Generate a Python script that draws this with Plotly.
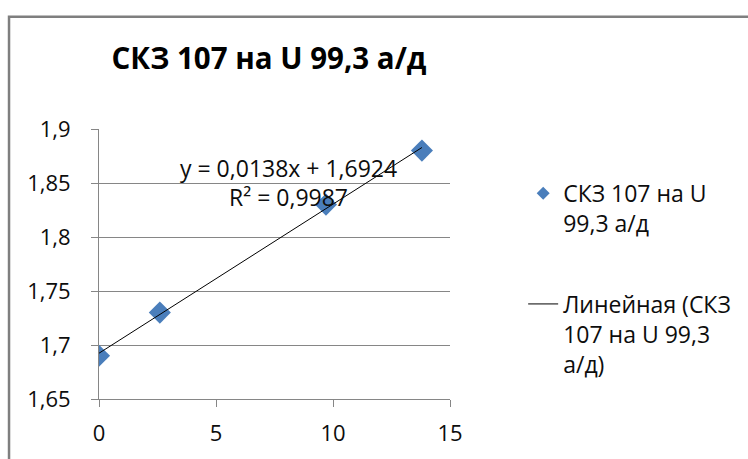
import plotly.graph_objects as go

# Measured series: СКЗ 107 at U 99.3 а/д
x_vals = [0.0, 2.6, 9.7, 13.8]
y_vals = [1.69, 1.73, 1.83, 1.88]

# Linear trend (as printed in the equation label)
slope = 0.0138
intercept = 1.6924
r_squared = 0.9987

series_name = "СКЗ 107 на U<br>99,3 а/д"
trend_name = "Линейная (СКЗ<br>107 на U 99,3<br>а/д)"
title_text = "СКЗ 107 на U 99,3 а/д"

x_ticks = [0, 5, 10, 15]
x_tick_labels = ["0", "5", "10", "15"]
y_ticks = [1.65, 1.7, 1.75, 1.8, 1.85, 1.9]
y_tick_labels = ["1,65", "1,7", "1,75", "1,8", "1,85", "1,9"]

BLUE = "#4A7EBB"
GRID = "#868686"
TEXT = "#0d0d0d"
FONT = "Open Sans, Noto Sans, sans-serif"


def fmt(v, nd):
    return f"{v:.{nd}f}".replace(".", ",")


trend_x = [min(x_vals), max(x_vals)]
trend_y = [slope * v + intercept for v in trend_x]

fig = go.Figure()

# legend swatch for the measured series (smaller than the plotted markers)
fig.add_trace(go.Scatter(
    x=[None], y=[None], mode="markers", name=series_name,
    legendgroup="data",
    marker=dict(symbol="diamond", size=10, color=BLUE),
    showlegend=True, hoverinfo="skip",
))

fig.add_trace(go.Scatter(
    x=x_vals, y=y_vals, mode="markers", name=series_name,
    legendgroup="data", showlegend=False,
    marker=dict(symbol="diamond", size=17, color=BLUE, line=dict(width=0)),
))

fig.add_trace(go.Scatter(
    x=trend_x, y=trend_y, mode="lines", name=trend_name,
    legendgroup="trend",
    line=dict(color="#000000", width=1),
))

eq_text = f"y = {fmt(slope, 4)}x + {fmt(intercept, 4)}"
r2_text = f"R² = {fmt(r_squared, 4)}"

fig.update_layout(
    width=748, height=459,
    margin=dict(l=99, r=294, t=129, b=58),
    paper_bgcolor="white", plot_bgcolor="white",
    font=dict(family=FONT, size=22, color=TEXT),
    title=dict(
        text=title_text,
        font=dict(family="Open Sans, sans-serif",
                  size=29.5, color="#000000", weight="bold"),
        x=269 / 748, xref="container", xanchor="center",
        y=1 - 59 / 459, yref="container", yanchor="middle",
    ),
    xaxis=dict(
        range=[0, 15], tickvals=x_ticks, ticktext=x_tick_labels,
        showgrid=False, zeroline=False,
        showline=True, linecolor=GRID, linewidth=1,
        ticks="outside", ticklen=7, tickcolor=GRID, tickwidth=1,
        ticklabelstandoff=8,
        tickfont=dict(size=22, color=TEXT),
    ),
    yaxis=dict(
        range=[1.65, 1.9], tickvals=y_ticks, ticktext=y_tick_labels,
        showgrid=True, gridcolor=GRID, gridwidth=1, zeroline=False,
        showline=True, linecolor=GRID, linewidth=1,
        ticks="outside", ticklen=7, tickcolor=GRID, tickwidth=1,
        ticklabelstandoff=16,
        tickfont=dict(size=22, color=TEXT),
    ),
    legend=dict(
        x=(528 - 99) / 355, xanchor="left",
        y=(401 - 172) / 272, yanchor="top",
        traceorder="grouped", tracegroupgap=48, valign="top",
        font=dict(size=23, color=TEXT),
        bgcolor="rgba(0,0,0,0)",
    ),
    annotations=[
        dict(x=8.1, y=1.864, xref="x", yref="y", text=eq_text,
             showarrow=False, font=dict(size=23, color=TEXT)),
        dict(x=8.1, y=1.8366, xref="x", yref="y", text=r2_text,
             showarrow=False, font=dict(size=23, color=TEXT)),
    ],
    shapes=[
        # outer chart frame (continues past the right and bottom edges)
        dict(type="rect", xref="paper", yref="paper",
             x0=(8 - 99) / 355, x1=2.0,
             y0=-1.0, y1=(401 - 16) / 272,
             line=dict(color="#7f7f7f", width=2.5), layer="below"),
    ],
    showlegend=True,
)

fig.write_html("out.html")
